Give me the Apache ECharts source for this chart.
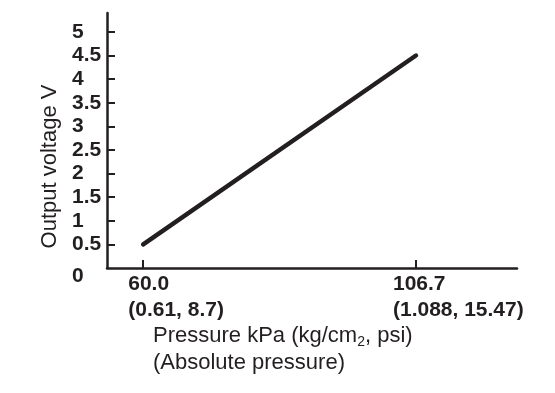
<!DOCTYPE html>
<html>
<head>
<meta charset="utf-8">
<script src="https://cdn.jsdelivr.net/npm/echarts@6/dist/echarts.min.js"></script>
<style>html,body{margin:0;padding:0;background:#fff}#c{width:555px;height:393px}</style>
</head>
<body>
<div id="c"></div>
<script>
// Data
const pressureKPa = [60.0, 106.7];
const outputVoltage = [0.5, 4.5];
const xTickValues = [60.0, 106.7];
const xTickLabels = ['60.0\n(0.61, 8.7)', '106.7\n(1.088, 15.47)'];
const yTickValues = [0, 0.5, 1, 1.5, 2, 2.5, 3, 3.5, 4, 4.5, 5];
const yTickLabels = ['0', '0.5', '1', '1.5', '2', '2.5', '3', '3.5', '4', '4.5', '5'];

const FONT = 'Liberation Sans';
const INK = '#231f20';

const chart = echarts.init(document.getElementById('c'), null, {renderer: 'canvas'});
chart.setOption({
  animation: false,
  backgroundColor: '#fff',
  title: {
    left: 148, top: 317,
    text: '{n|Pressure kPa (kg/cm}{s|2}{n|, psi)}\n{n|(Absolute pressure)}',
    textStyle: {
      fontWeight: 'normal', fontFamily: FONT, fontSize: 22, color: INK,
      rich: {
        n: {fontFamily: FONT, fontWeight: 'normal', fontSize: 22, color: INK, lineHeight: 27},
        s: {fontFamily: FONT, fontWeight: 'normal', fontSize: 14, color: INK, lineHeight: 27, verticalAlign: 'bottom', padding: [2, 0, 0, 0]}
      }
    }
  },
  grid: {left: 107, right: 38, top: 13, bottom: 125, containLabel: false},
  xAxis: {
    type: 'value', min: 53.8, max: 124,
    splitLine: {show: false},
    axisLine: {show: true, onZero: false, lineStyle: {color: INK, width: 2.5}},
    axisTick: {show: true, inside: true, length: 8, customValues: xTickValues, lineStyle: {color: INK, width: 2}},
    axisLabel: {
      customValues: xTickValues,
      margin: 3,
      fontFamily: FONT, fontSize: 21, fontWeight: 'bold', color: INK,
      formatter: function (v) {
        const i = xTickValues.indexOf(v);
        const parts = (i >= 0 ? xTickLabels[i] : '').split('\n');
        const k = i === 0 ? 'a' : 'b';
        return '{' + k + '|' + parts[0] + '}\n{' + k + '|' + parts[1] + '}';
      },
      rich: {
        a: {fontFamily: FONT, fontSize: 21, fontWeight: 'bold', color: INK, lineHeight: 26, width: 30, align: 'left'},
        b: {fontFamily: FONT, fontSize: 21, fontWeight: 'bold', color: INK, lineHeight: 26, width: 46, align: 'left'}
      }
    }
  },
  yAxis: {
    type: 'value', min: 0, max: 5.4,
    name: 'Output voltage V', nameLocation: 'middle', nameGap: 42, nameRotate: 90,
    nameTextStyle: {fontFamily: FONT, fontSize: 22, fontWeight: 'normal', color: INK, padding: [0, 52, 0, 0]},
    splitLine: {show: false},
    axisLine: {show: true, lineStyle: {color: INK, width: 2.5}},
    axisTick: {show: true, inside: true, length: 8, customValues: yTickValues.slice(1), lineStyle: {color: INK, width: 2}},
    axisLabel: {
      customValues: yTickValues,
      margin: 5,
      fontFamily: FONT, fontSize: 21, fontWeight: 'bold', color: INK,
      formatter: function (v) {
        const i = yTickValues.indexOf(v);
        const t = i >= 0 ? yTickLabels[i] : '';
        return v === 0 ? '{z|' + t + '}' : '{b|' + t + '}';
      },
      rich: {
        b: {fontFamily: FONT, fontSize: 21, fontWeight: 'bold', color: INK, width: 30, align: 'left'},
        z: {fontFamily: FONT, fontSize: 21, fontWeight: 'bold', color: INK, width: 30, align: 'left', padding: [16, 0, 0, 0]}
      }
    }
  },
  series: [{
    type: 'line',
    data: pressureKPa.map((x, i) => [x, outputVoltage[i]]),
    showSymbol: false, symbol: 'none',
    lineStyle: {color: INK, width: 4.5, cap: 'round'}
  }]
});
</script>
</body>
</html>
